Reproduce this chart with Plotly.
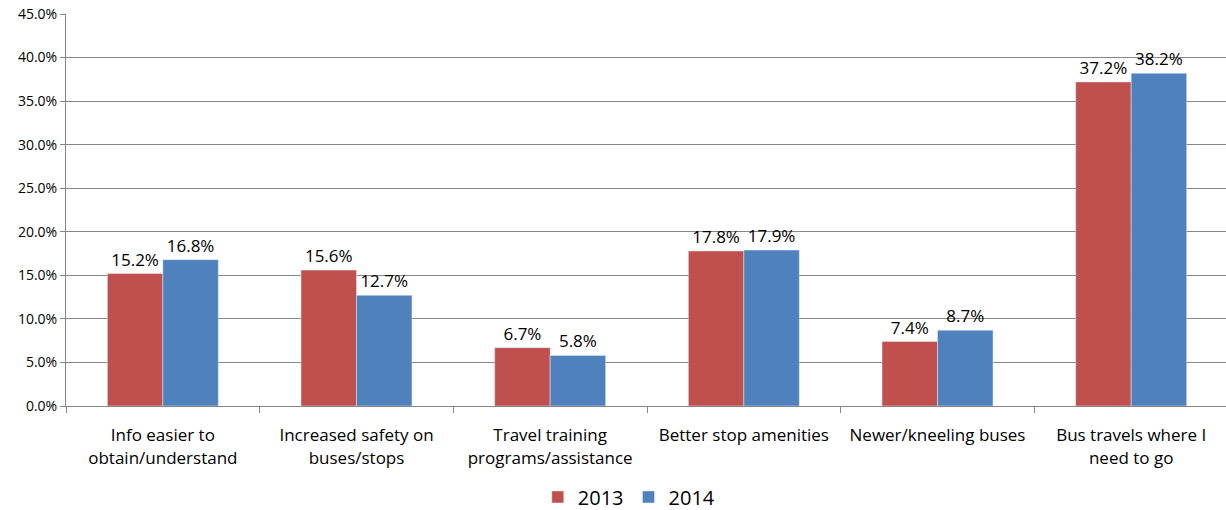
import plotly.graph_objects as go

categories = ["Info easier to<br>obtain/understand", "Increased safety on<br>buses/stops",
              "Travel training<br>programs/assistance", "Better stop amenities",
              "Newer/kneeling buses", "Bus travels where I<br>need to go"]
vals_2013 = [0.152, 0.156, 0.067, 0.178, 0.074, 0.372]
vals_2014 = [0.168, 0.127, 0.058, 0.179, 0.087, 0.382]

font_family = "Open Sans, Liberation Sans, sans-serif"

fig = go.Figure()
fig.add_trace(go.Bar(name="2013", x=categories, y=vals_2013, marker_color="#C0504D",
                     text=[f"{v*100:.1f}%" for v in vals_2013], textposition="outside",
                     textfont=dict(size=17, color="#000"), cliponaxis=False))
fig.add_trace(go.Bar(name="2014", x=categories, y=vals_2014, marker_color="#4F81BD",
                     text=[f"{v*100:.1f}%" for v in vals_2014], textposition="outside",
                     textfont=dict(size=17, color="#000"), cliponaxis=False))

fig.update_layout(
    width=1228, height=510,
    margin=dict(l=66, r=0, t=14, b=104, autoexpand=False),
    barmode="group", bargap=0.427, bargroupgap=0,
    plot_bgcolor="white", paper_bgcolor="white",
    font=dict(family=font_family, color="#000"),
    legend=dict(orientation="h", x=0.406, xanchor="left", y=-0.232, yanchor="middle",
                font=dict(size=20), itemwidth=30, tracegroupgap=0),
    uniformtext=dict(mode=False),
)
fig.update_xaxes(showline=True, linecolor="#868686", linewidth=1, ticks="outside",
                 tickson="boundaries", ticklen=6, tickcolor="#868686",
                 tickfont=dict(size=17), showgrid=False, automargin=False,
                 ticklabelstandoff=14)
fig.update_yaxes(range=[0, 0.45], dtick=0.05, tickformat=".1%", showgrid=True,
                 gridcolor="#868686", gridwidth=1, showline=True, linecolor="#868686",
                 ticks="outside", ticklen=5, tickcolor="#868686",
                 tickfont=dict(size=14), zeroline=False, automargin=False)

fig.write_html("out.html", config={"displayModeBar": False},
               post_script="document.body.style.margin='0';document.body.style.overflow='hidden';")
